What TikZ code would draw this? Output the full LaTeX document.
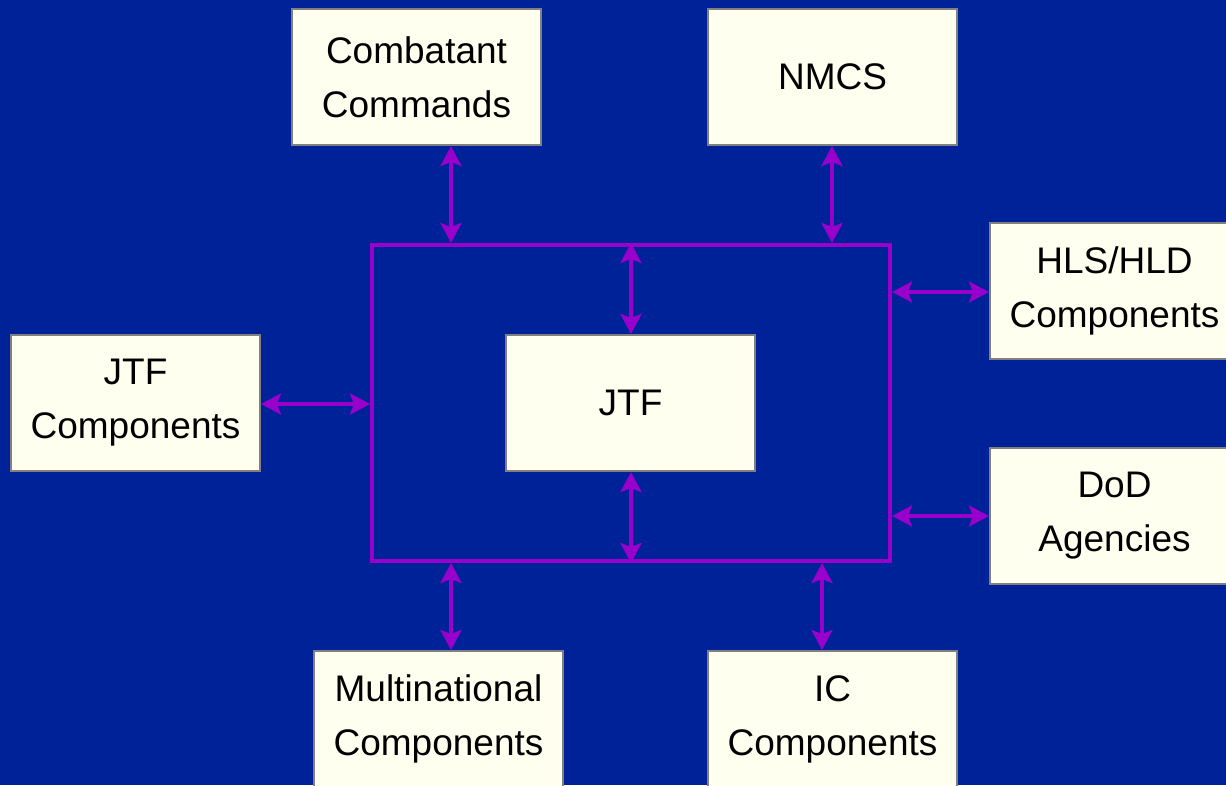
\documentclass[tikz,border=0pt]{standalone}
\usepackage{fontspec}
\setmainfont{Liberation Sans}
\usetikzlibrary{arrows.meta}
\definecolor{bgblue}{RGB}{0,34,153}
\definecolor{linkpurple}{RGB}{153,0,204}
\definecolor{boxfill}{RGB}{255,255,240}
\definecolor{boxedge}{RGB}{128,128,128}
\tikzset{
  box/.style={draw=boxedge, line width=2pt, fill=boxfill, minimum width=249pt, minimum height=136pt,
    inner sep=0pt, align=center, text=black, font=\fontsize{37pt}{54pt}\selectfont},
  tip/.tip={Stealth[length=20pt,width=21pt,inset=4pt]},
  link/.style={draw=linkpurple, line width=4pt, tip-tip},
  framebox/.style={draw=linkpurple, line width=4pt, minimum width=518pt, minimum height=316pt, inner sep=0pt}
}
\begin{document}
\begin{tikzpicture}[x=1pt,y=-1pt]
\useasboundingbox (0,0) rectangle (1226,785);
\fill[bgblue] (0,0) rectangle (1226,785);
\begin{scope}
\clip (0,0) rectangle (1226,785);
\node[framebox] (frame) at (631,403) {};
\node[box] (cc) at (416.5,77) {Combatant\\Commands};
\node[box] (nmcs) at (832.5,77) {NMCS};
\node[box] (hls) at (1114.5,291) {HLS/HLD\\Components};
\node[box] (dod) at (1114.5,516) {DoD\\Agencies};
\node[box] (jtfc) at (135.5,403) {JTF\\Components};
\node[box] (jtf) at (630.5,403) {JTF};
\node[box] (mn) at (438.5,719) {Multinational\\Components};
\node[box] (ic) at (832.5,719) {IC\\Components};
\draw[link] (cc.south -| 451,0) -- (frame.north -| 451,0);
\draw[link] (nmcs.south -| 832,0) -- (frame.north -| 832,0);
\draw[link] (frame.north -| 631,0) -- (jtf.north -| 631,0);
\draw[link] (jtf.south -| 631,0) -- (frame.south -| 631,0);
\draw[link] (jtfc.east |- 0,404) -- (frame.west |- 0,404);
\draw[link] (frame.east |- 0,292) -- (hls.west |- 0,292);
\draw[link] (frame.east |- 0,516) -- (dod.west |- 0,516);
\draw[link] (frame.south -| 451,0) -- (mn.north -| 451,0);
\draw[link] (frame.south -| 822,0) -- (ic.north -| 822,0);
\end{scope}
\end{tikzpicture}
\end{document}
